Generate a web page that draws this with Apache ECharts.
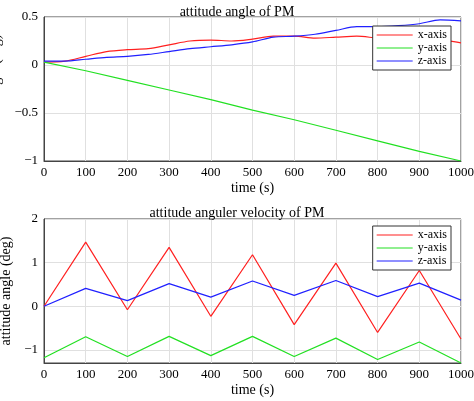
<!DOCTYPE html><html><head><meta charset="utf-8">
<script src="https://cdn.jsdelivr.net/npm/echarts@6/dist/echarts.min.js"></script>
<style>body{margin:0}#c{width:474px;height:401px}</style></head><body><div id="c"></div>
<script>
const tTop=[0,50,100,150,200,250,300,350,400,450,500,550,600,650,700,750,800,850,900,950,1000];
const angX=[0.03,0.04,0.09,0.14,0.16,0.17,0.21,0.25,0.26,0.25,0.27,0.30,0.30,0.28,0.29,0.30,0.28,0.27,0.27,0.26,0.23];
const angZ=[0.04,0.04,0.06,0.08,0.09,0.11,0.14,0.17,0.19,0.21,0.24,0.29,0.30,0.32,0.36,0.40,0.40,0.41,0.43,0.47,0.46];
const tY=[0,100,200,300,400,500,600,700,800,900,1000];
const angY=[0.03,-0.06,-0.16,-0.26,-0.36,-0.47,-0.57,-0.68,-0.79,-0.9,-1.0];
const tBot=[0,100,200,300,400,500,600,700,800,900,1000];
const velX=[0,1.47,-0.08,1.35,-0.23,1.18,-0.42,0.99,-0.6,0.82,-0.75];
const velY=[-1.18,-0.7,-1.15,-0.69,-1.13,-0.69,-1.15,-0.73,-1.22,-0.82,-1.3];
const velZ=[0,0.41,0.13,0.52,0.21,0.58,0.25,0.59,0.22,0.53,0.14];
const F='Liberation Serif';
const zip=(a,b)=>a.map((v,i)=>[v,b[i]]);
const fmt=v=>String(v).replace('-','\u2212');
const xa=i=>({type:'value',gridIndex:i,min:0,max:1000,interval:100,name:'time (s)',nameLocation:'middle',nameGap:20,
 nameTextStyle:{fontFamily:F,fontSize:14,color:'#000'},axisLine:{onZero:false,lineStyle:{color:'#444'}},axisTick:{show:false},
 axisLabel:{fontFamily:F,fontSize:13,color:'#000',margin:5,formatter:v=>String(v)},splitLine:{lineStyle:{color:'#e0e0e0'}}});
const ya=(i,o)=>Object.assign({type:'value',gridIndex:i,name:'attitude angle (deg)',nameLocation:'middle',nameGap:29,
 nameTextStyle:{fontFamily:F,fontSize:14,color:'#000'},axisLine:{show:true,onZero:false,lineStyle:{color:'#444'}},axisTick:{show:false},
 axisLabel:{fontFamily:F,fontSize:13,color:'#000',formatter:fmt,margin:6},splitLine:{lineStyle:{color:'#e0e0e0'}}},o);
const s=(n,d,c,i)=>({name:n,type:'line',data:d,xAxisIndex:i,yAxisIndex:i,showSymbol:false,smooth:i===0&&n!=='y-axis'?0.3:false,lineStyle:{color:c,width:1.2},itemStyle:{color:c}});
const lg=(i,top)=>({id:'l'+i,orient:'vertical',right:23,top:top,data:['x-axis','y-axis','z-axis'],
 backgroundColor:'#fff',borderColor:'#333',borderWidth:1,borderRadius:0,padding:[3,4,3,4],itemGap:1,itemWidth:36,itemHeight:10,
 icon:'path://M0,5L36,5L36,6L0,6Z',textStyle:{fontFamily:F,fontSize:12,color:'#000'}});
const ch=echarts.init(document.getElementById('c'));
ch.setOption({animation:false,backgroundColor:'#fff',
 title:[{text:'attitude angle of PM',left:'center',top:0,textStyle:{fontFamily:F,fontSize:14,fontWeight:'normal',color:'#000'}},
 {text:'attitude anguler velocity of PM',left:'center',top:201,textStyle:{fontFamily:F,fontSize:14,fontWeight:'normal',color:'#000'}}],
 legend:[lg(0,26),lg(1,226)],
 grid:[{left:44,right:13,top:17,height:144,show:true,borderColor:'#444',backgroundColor:'#fff',outerBoundsMode:'none',containLabel:false},
 {left:44,right:13,top:219,height:144,show:true,borderColor:'#444',backgroundColor:'#fff',outerBoundsMode:'none',containLabel:false}],
 xAxis:[xa(0),xa(1)],
 yAxis:[ya(0,{min:-1,max:0.5,interval:0.5}),ya(1,{min:-1.3,max:2,axisLabel:{fontFamily:F,fontSize:13,color:'#000',formatter:fmt,margin:6,customValues:[-1,0,1,2]},axisTick:{show:false,customValues:[-1,0,1,2]}})],
 series:[s('x-axis',zip(tTop,angX),'#ff2020',0),s('y-axis',zip(tY,angY),'#22e022',0),s('z-axis',zip(tTop,angZ),'#2020ff',0),
 s('x-axis',zip(tBot,velX),'#ff2020',1),s('y-axis',zip(tBot,velY),'#22e022',1),s('z-axis',zip(tBot,velZ),'#2020ff',1)]
});
</script></body></html>
